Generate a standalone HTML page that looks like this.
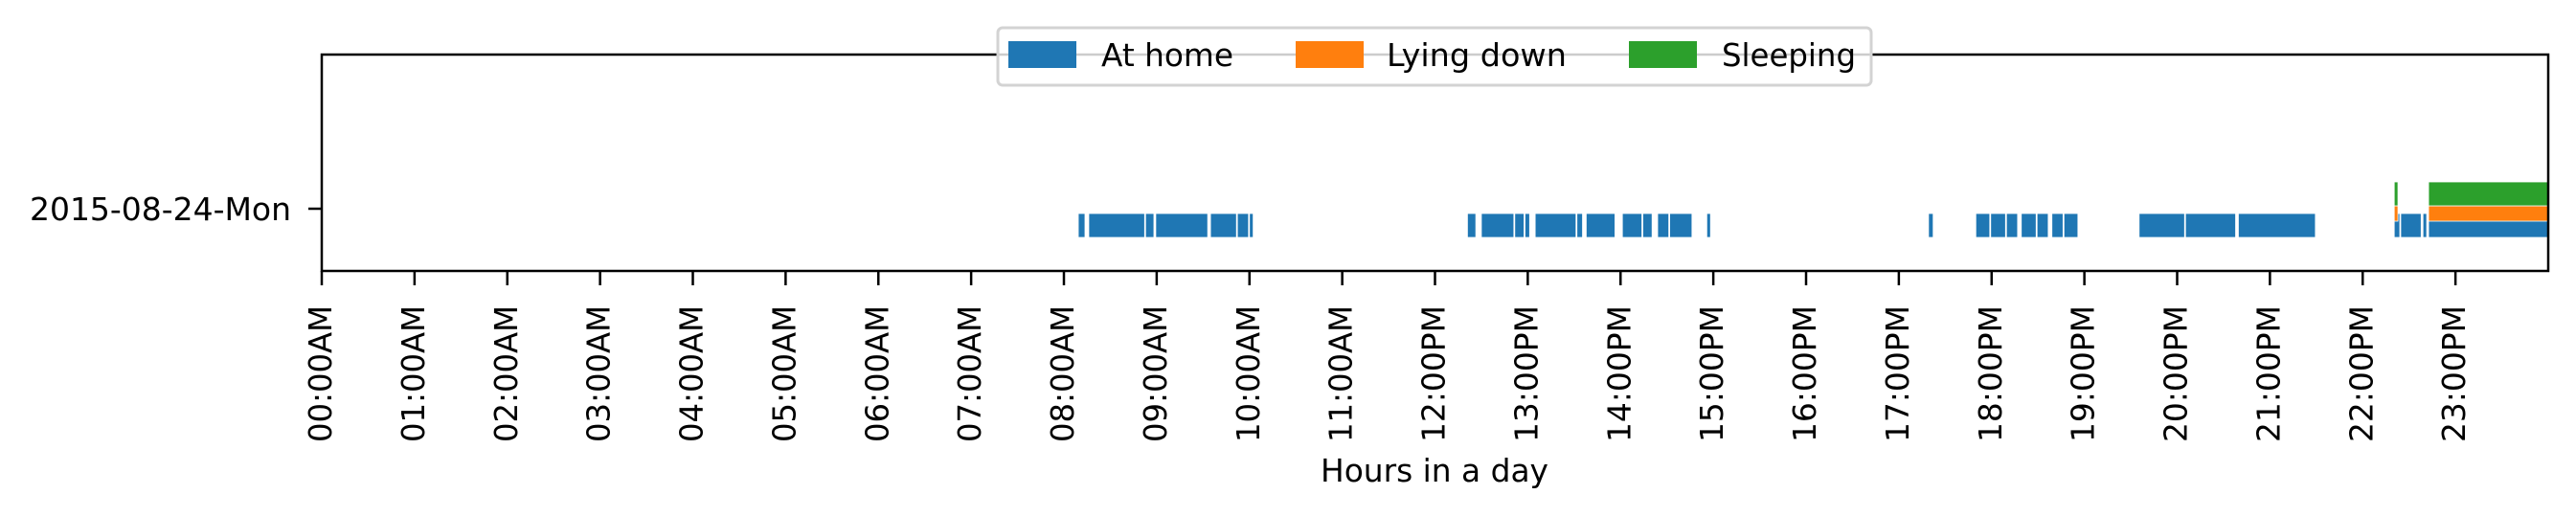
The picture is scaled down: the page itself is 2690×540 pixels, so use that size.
<!DOCTYPE html>
<html><head><meta charset="utf-8"><style>
html,body{margin:0;padding:0;background:#fff;}
svg{display:block;font-family:"DejaVu Sans","Liberation Sans",sans-serif;}
</style></head><body>
<svg id="chart" width="2690" height="540" viewBox="0 0 2690 540" xmlns="http://www.w3.org/2000/svg">
<rect x="0" y="0" width="2690" height="540" fill="#fff"/>
<g id="marks"></g>
<g id="axes"></g>
<g id="legend">
<rect x="1042" y="29" width="912" height="60" rx="5" fill="#fff" fill-opacity="0.8" stroke="#d3d3d3" stroke-width="3"/>
<rect x="1053" y="43" width="71" height="28" fill="#1f77b4"/>
<text x="1150" y="69" font-size="33" textLength="138" lengthAdjust="spacingAndGlyphs">At home</text>
<rect x="1353" y="43" width="71" height="28" fill="#ff7f0e"/>
<text x="1448" y="69" font-size="33" textLength="188" lengthAdjust="spacingAndGlyphs">Lying down</text>
<rect x="1701" y="43" width="71" height="28" fill="#2ca02c"/>
<text x="1798" y="69" font-size="33" textLength="140" lengthAdjust="spacingAndGlyphs">Sleeping</text>
</g>
</svg>
<script>
const categories = ["At home", "Lying down", "Sleeping"];
const atHomeStarts = [8.155,8.268,8.88,8.99,9.58,9.87,10.0,12.35,12.50,12.86,12.97,13.08,13.53,13.63,14.02,14.24,14.40,14.53,14.93,17.32,17.83,17.99,18.16,18.32,18.49,18.65,18.78,19.59,20.09,20.66,22.34,22.41,22.65,22.71];
const atHomeEnds   = [8.227,8.87,8.97,9.55,9.86,9.99,10.04,12.44,12.85,12.96,13.02,13.52,13.59,13.94,14.23,14.34,14.52,14.77,14.97,17.37,17.98,18.15,18.28,18.48,18.61,18.77,18.93,20.08,20.63,21.49,22.40,22.63,22.69,24.0];
const lyingStarts = [22.34,22.71];
const lyingEnds   = [22.38,24.0];
const sleepStarts = [22.34,22.71];
const sleepEnds   = [22.38,24.0];
const hourTicks = [0,1,2,3,4,5,6,7,8,9,10,11,12,13,14,15,16,17,18,19,20,21,22,23];
const tickLabels = ["00:00AM","01:00AM","02:00AM","03:00AM","04:00AM","05:00AM","06:00AM","07:00AM","08:00AM","09:00AM","10:00AM","11:00AM","12:00PM","13:00PM","14:00PM","15:00PM","16:00PM","17:00PM","18:00PM","19:00PM","20:00PM","21:00PM","22:00PM","23:00PM"];
const dayLabels = ["2015-08-24-Mon"];

const NS = "http://www.w3.org/2000/svg";
const L = 336, R = 2661, T = 57, B = 283;
function xScale(h){ return L + (R - L) * h / 24; }
function mk(tag, attrs, parent){
  const e = document.createElementNS(NS, tag);
  for (const k in attrs) e.setAttribute(k, attrs[k]);
  parent.appendChild(e);
  return e;
}
const marks = document.getElementById("marks");
const axes = document.getElementById("axes");
function drawSeries(starts, ends, y, h, color, name){
  for (let i = 0; i < starts.length; i++){
    const x0 = xScale(starts[i]), x1 = xScale(ends[i]);
    const r = mk("rect", {x:x0, y:y, width:Math.max(1, x1 - x0), height:h, fill:color, stroke:"#fff", "stroke-width":0.8}, marks);
    
    
  }
}
drawSeries(atHomeStarts, atHomeEnds, 223, 25, "#1f77b4", "at-home");
drawSeries(lyingStarts, lyingEnds, 215, 16, "#ff7f0e", "lying-down");
drawSeries(sleepStarts, sleepEnds, 190, 25, "#2ca02c", "sleeping");

// spines
const frame = mk("rect", {x:L, y:T, width:R-L, height:B-T, fill:"none", stroke:"#000", "stroke-width":2.5}, axes);



// y tick
const yt = mk("line", {x1:322, x2:L, y1:218, y2:218, stroke:"#000", "stroke-width":2.5}, axes);


const yl = mk("text", {x:304, y:230, "font-size":33, "text-anchor":"end", textLength:273, lengthAdjust:"spacingAndGlyphs"}, axes);
yl.textContent = dayLabels[0];



// x ticks
for (let i = 0; i < hourTicks.length; i++){
  const x = xScale(hourTicks[i]);
  const t = mk("line", {x1:x, x2:x, y1:B, y2:298, stroke:"#000", "stroke-width":2.5}, axes);
  
  
  const lb = mk("text", {x:0, y:0, "font-size":33, "text-anchor":"end", textLength:143, lengthAdjust:"spacingAndGlyphs", transform:"translate(" + (x + 10) + ",319) rotate(-90)"}, axes);
  lb.textContent = tickLabels[i];
  
  
}
const xt = mk("text", {x:1498, y:503, "font-size":33, "text-anchor":"middle", textLength:238, lengthAdjust:"spacingAndGlyphs"}, axes);
xt.textContent = "Hours in a day";


</script>
</body></html>
